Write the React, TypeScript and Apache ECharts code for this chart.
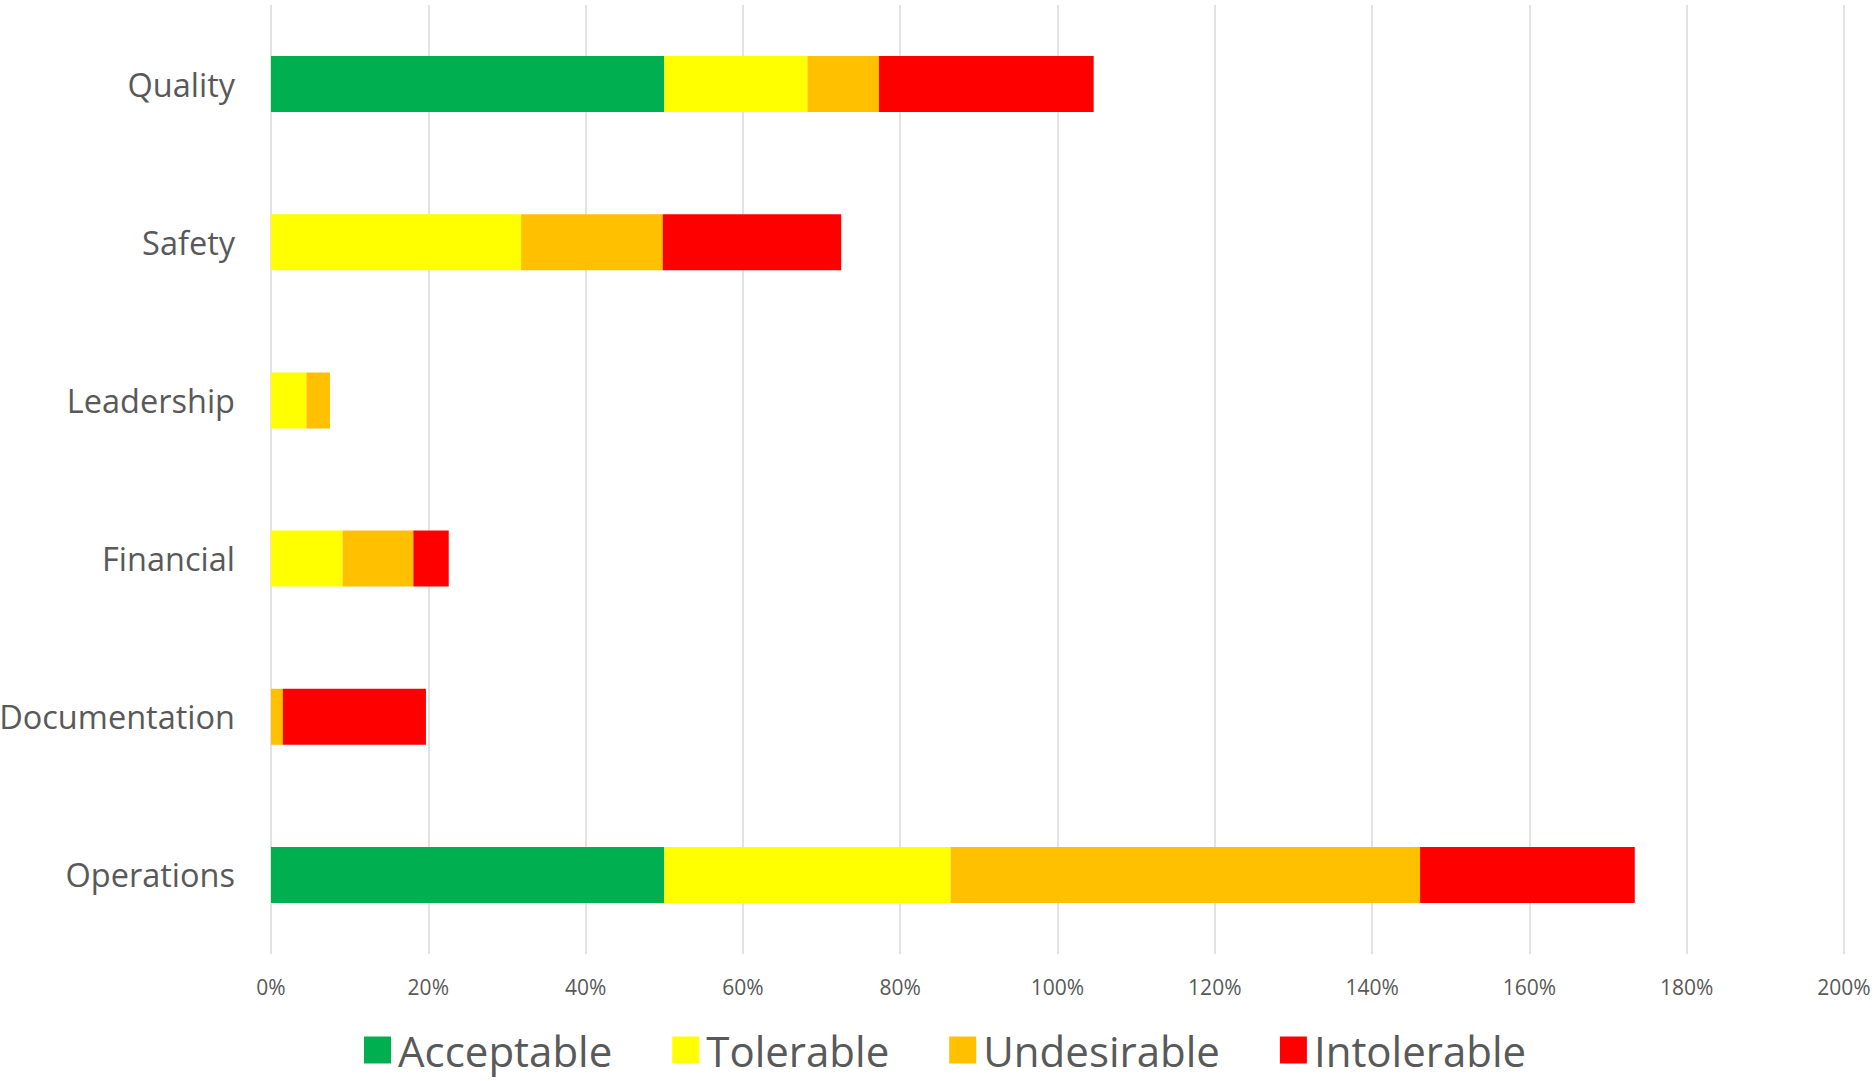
import React, { useEffect, useRef } from "react";
import * as echarts from "echarts";

const categories = ["Quality", "Safety", "Leadership", "Financial", "Documentation", "Operations"];
const seriesNames = ["Acceptable", "Tolerable", "Undesirable", "Intolerable"];
const acceptable = [0.5, 0, 0, 0, 0, 0.5];
const tolerable = [0.182, 0.318, 0.045, 0.091, 0, 0.364];
const undesirable = [0.091, 0.18, 0.03, 0.09, 0.015, 0.597];
const intolerable = [0.273, 0.227, 0, 0.045, 0.182, 0.273];
const colors = ["#00B050", "#FFFF00", "#FFC000", "#FF0000"];
const xTicks = { min: 0, max: 2, interval: 0.2 };

export default function App() {
  const ref = useRef<HTMLDivElement>(null);
  useEffect(() => {
    if (!ref.current) return;
    const chart = echarts.init(ref.current, null, { renderer: "svg" });
    const values = [acceptable, tolerable, undesirable, intolerable];
    const font = "'Open Sans', sans-serif";
    chart.setOption({
      animation: false,
      textStyle: { fontFamily: font },
      grid: { left: 271, right: 30, top: 5, bottom: 127, containLabel: false, outerBoundsMode: "none" },
      legend: {
        data: seriesNames,
        left: 359,
        top: 1024,
        itemWidth: 27,
        itemHeight: 27,
        itemGap: 60,
        icon: "rect",
        textStyle: { fontSize: 42, color: "#595959", fontFamily: font, padding: [0, 0, 0, 2] },
      },
      xAxis: {
        type: "value",
        min: xTicks.min,
        max: xTicks.max,
        interval: xTicks.interval,
        axisLine: { show: false },
        axisTick: { show: false },
        splitLine: { show: true, lineStyle: { color: "#D9D9D9", width: 1.5 } },
        axisLabel: {
          fontSize: 21,
          color: "#595959",
          margin: 22,
          formatter: (v: number) => Math.round(v * 100) + "%",
        },
      },
      yAxis: {
        type: "category",
        data: categories,
        inverse: true,
        axisLine: { show: false },
        axisTick: { show: false },
        axisLabel: { fontSize: 32.5, color: "#595959", margin: 36 },
      },
      series: seriesNames.map((name, i) => ({
        name,
        type: "bar",
        stack: "total",
        barWidth: 56,
        data: values[i],
        itemStyle: { color: colors[i] },
      })),
    });
    return () => chart.dispose();
  }, []);
  return (
    <div
      ref={ref}
      style={{ position: "fixed", left: 0, top: 0, width: 1874, height: 1081, background: "#fff" }}
    />
  );
}
